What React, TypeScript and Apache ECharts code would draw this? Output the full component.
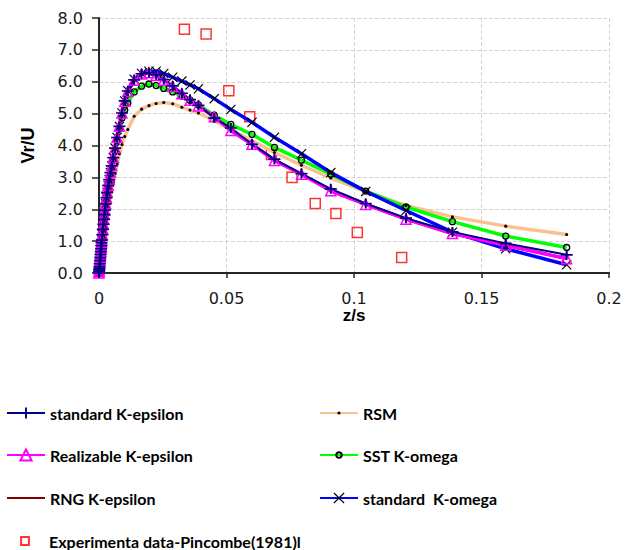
import React, { useEffect, useRef } from 'react';
import * as echarts from 'echarts';

// z/s sample positions (shared by all model curves)
const zs = [
  0, 0.00005, 0.0001, 0.00015, 0.0002, 0.0003, 0.0004, 0.0005, 0.0006, 0.0007,
  0.0008, 0.0009, 0.0010, 0.0011, 0.0013, 0.0015, 0.0017, 0.0019, 0.0021, 0.0023,
  0.0026, 0.0029, 0.0032, 0.0036, 0.0040, 0.0045, 0.0050, 0.0056, 0.0063, 0.0071,
  0.0080, 0.0090, 0.0101, 0.0113, 0.0138, 0.0167, 0.0196, 0.0224, 0.0254, 0.0289,
  0.0325, 0.0357, 0.0390, 0.0452, 0.0517, 0.0600, 0.0688, 0.0794, 0.0909, 0.1046,
  0.1204, 0.1386, 0.1595, 0.1834,
];

const stdKEpsilon = [
  0, 0.05, 0.10, 0.15, 0.20, 0.29, 0.39, 0.48, 0.58, 0.67,
  0.76, 0.86, 0.95, 1.03, 1.20, 1.37, 1.53, 1.68, 1.83, 1.97,
  2.17, 2.36, 2.53, 2.74, 2.93, 3.15, 3.36, 3.62, 3.92, 4.25,
  4.60, 5.02, 5.40, 5.71, 6.06, 6.25, 6.29, 6.22, 6.07, 5.87,
  5.64, 5.44, 5.26, 4.86, 4.55, 4.04, 3.57, 3.12, 2.64, 2.18,
  1.72, 1.29, 0.93, 0.57,
];

const realizableKEpsilon = [
  0, 0.05, 0.10, 0.15, 0.20, 0.30, 0.39, 0.49, 0.58, 0.68,
  0.77, 0.86, 0.96, 1.04, 1.21, 1.38, 1.54, 1.69, 1.84, 1.98,
  2.18, 2.37, 2.54, 2.75, 2.94, 3.16, 3.37, 3.63, 3.93, 4.26,
  4.61, 5.02, 5.39, 5.70, 6.05, 6.24, 6.28, 6.20, 6.05, 5.85,
  5.62, 5.42, 5.24, 4.90, 4.47, 4.04, 3.53, 3.10, 2.58, 2.15,
  1.69, 1.24, 0.87, 0.45,
];

const rngKEpsilon = [
  0, 0.05, 0.10, 0.15, 0.20, 0.30, 0.39, 0.49, 0.58, 0.68,
  0.77, 0.86, 0.96, 1.04, 1.21, 1.38, 1.54, 1.69, 1.84, 1.98,
  2.18, 2.37, 2.54, 2.75, 2.94, 3.16, 3.37, 3.63, 3.93, 4.26,
  4.61, 5.02, 5.39, 5.70, 6.05, 6.24, 6.28, 6.20, 6.05, 5.85,
  5.62, 5.42, 5.24, 4.90, 4.47, 4.04, 3.53, 3.10, 2.58, 2.15,
  1.69, 1.24, 0.87, 0.45,
];

const rsm = [
  0, 0.03, 0.07, 0.10, 0.13, 0.20, 0.27, 0.33, 0.40, 0.46,
  0.52, 0.58, 0.64, 0.70, 0.82, 0.94, 1.05, 1.16, 1.27, 1.38,
  1.53, 1.68, 1.82, 2.00, 2.18, 2.40, 2.60, 2.85, 3.12, 3.42,
  3.74, 4.03, 4.28, 4.50, 4.92, 5.14, 5.25, 5.32, 5.35, 5.31,
  5.20, 5.11, 5.02, 4.78, 4.50, 4.15, 3.78, 3.38, 2.98, 2.55,
  2.12, 1.76, 1.47, 1.21,
];

const sstKOmega = [
  0, 0.05, 0.10, 0.15, 0.19, 0.29, 0.38, 0.47, 0.57, 0.66,
  0.75, 0.84, 0.93, 1.01, 1.18, 1.34, 1.50, 1.65, 1.80, 1.94,
  2.14, 2.32, 2.49, 2.70, 2.89, 3.10, 3.31, 3.56, 3.85, 4.17,
  4.52, 4.86, 5.12, 5.33, 5.68, 5.86, 5.93, 5.88, 5.79, 5.68,
  5.55, 5.42, 5.27, 4.95, 4.66, 4.35, 3.94, 3.54, 3.10, 2.57,
  2.07, 1.61, 1.16, 0.80,
];

const stdKOmega = [
  0, 0.05, 0.10, 0.15, 0.20, 0.29, 0.39, 0.48, 0.58, 0.67,
  0.76, 0.86, 0.95, 1.03, 1.20, 1.37, 1.53, 1.68, 1.83, 1.97,
  2.17, 2.36, 2.53, 2.74, 2.93, 3.15, 3.36, 3.62, 3.92, 4.25,
  4.60, 5.02, 5.40, 5.72, 6.08, 6.26, 6.33, 6.33, 6.26, 6.14,
  6.02, 5.90, 5.78, 5.47, 5.13, 4.73, 4.26, 3.74, 3.15, 2.56,
  1.96, 1.28, 0.76, 0.26,
];

// Experimental data (Pincombe 1981)
const expZ = [0.0335, 0.0420, 0.0509, 0.0591, 0.0676, 0.0757, 0.0848, 0.0929, 0.1013, 0.1187];
const expV = [7.65, 7.50, 5.72, 4.90, 3.72, 3.00, 2.18, 1.87, 1.27, 0.49];

const yTicks = ['0.0', '1.0', '2.0', '3.0', '4.0', '5.0', '6.0', '7.0', '8.0'];

const legendLeftColumn = ['standard K-epsilon', 'Realizable K-epsilon', 'RNG K-epsilon', 'Experimenta data-Pincombe(1981)l'];
const legendRightColumn = ['RSM', 'SST K-omega', 'standard  K-omega'];

const PLUS = 'path://M5,0H7V5H12V7H7V12H5V7H0V5H5Z';
const CROSS = 'path://M0,1L1,0L6,5L11,0L12,1L7,6L12,11L11,12L6,7L1,12L0,11L5,6Z';
const DOT = 'path://M0,0M10,10M3.6,5A1.4,1.4,0,1,1,6.4,5A1.4,1.4,0,1,1,3.6,5Z';
const RING = 'path://M0,0M10,10M2.5,5A2.5,2.5,0,1,1,7.5,5A2.5,2.5,0,1,1,2.5,5Z';
const SQUARE = 'path://M0,0M18,18M4,4H14V14H4Z';

export default function App() {
  const ref = useRef<HTMLDivElement>(null);
  useEffect(() => {
    document.body.style.margin = '0';
    const chart = echarts.init(ref.current as HTMLDivElement, null, { renderer: 'svg' });
    const pts = (ys: number[]) => zs.map((x, i) => [x, ys[i]]);
    const line = (
      name: string,
      ys: number[],
      color: string,
      width: number,
      symbol: string,
      symbolSize: any,
      itemStyle: any,
      showSymbol = true
    ) => ({
      name,
      type: 'line',
      data: pts(ys),
      symbol,
      symbolSize,
      showSymbol,
      showAllSymbol: true,
      lineStyle: { color, width },
      itemStyle,
      emphasis: { disabled: true },
    });

    const legendText = {
      fontFamily: 'Lato',
      fontWeight: 'bold',
      fontSize: 16,
      color: '#000',
    };
    const rowTops = [405, 447, 490, 533];
    const mkLegend = (name: string, left: number, row: number) => ({
      left,
      top: rowTops[row],
      itemWidth: 38,
      itemHeight: 14,
      padding: 0,
      selectedMode: false,
      textStyle: legendText,
      data: [name],
    });
    const legends = [
      ...legendLeftColumn.map((n, i) => mkLegend(n, i === 3 ? 17 : 6, i)),
      ...legendRightColumn.map((n, i) => mkLegend(n, 319, i)),
    ];

    chart.setOption({
      animation: false,
      backgroundColor: '#fff',
      grid: { left: 99, right: 16, top: 18, bottom: 277 },
      xAxis: {
        type: 'value',
        min: 0,
        max: 0.2,
        interval: 0.05,
        name: 'z/s',
        nameLocation: 'middle',
        nameGap: 34,
        nameMoveOverlap: false,
        nameTextStyle: { fontFamily: 'Liberation Sans', fontWeight: 'bold', fontSize: 17, color: '#000' },
        axisLine: { lineStyle: { color: '#262626', width: 2 } },
        axisTick: { show: true, length: 5, lineStyle: { color: '#262626', width: 1.5 } },
        axisLabel: { fontFamily: 'DejaVu Sans', fontSize: 16, color: '#1a1a1a', margin: 17 },
        splitLine: { show: true, lineStyle: { type: 'dashed', color: '#d4d4d4', width: 1 } },
      },
      yAxis: {
        type: 'value',
        min: 0,
        max: 8,
        interval: 1,
        name: 'Vr/U',
        nameLocation: 'middle',
        nameGap: 62,
        nameMoveOverlap: false,
        nameTextStyle: { fontFamily: 'Liberation Sans', fontWeight: 'bold', fontSize: 18, color: '#000' },
        axisLine: { show: true, lineStyle: { color: '#262626', width: 2 } },
        axisTick: { show: true, length: 7, lineStyle: { color: '#262626', width: 1.5 } },
        axisLabel: {
          fontFamily: 'DejaVu Sans',
          fontSize: 16,
          color: '#1a1a1a',
          margin: 16,
          formatter: (v: number) => yTicks[Math.round(v)] ?? String(v),
        },
        splitLine: { show: true, lineStyle: { type: 'dashed', color: '#d4d4d4', width: 1 } },
      },
      legend: legends,
      series: [
        line('RNG K-epsilon', rngKEpsilon, '#800000', 3, 'circle', 0, { color: 'rgba(0,0,0,0)' }, false),
        line('RSM', rsm, '#FAC090', 3.5, DOT, 11, { color: '#000' }),
        line('SST K-omega', sstKOmega, '#00FF00', 3.5, RING, 12, {
          color: 'rgba(0,0,0,0)',
          borderColor: '#000',
          borderWidth: 1.3,
        }),
        line('standard  K-omega', stdKOmega, '#0000FF', 3.5, CROSS, 10, { color: '#000' }),
        line('Realizable K-epsilon', realizableKEpsilon, '#FF00FF', 3.5, 'triangle', 10, {
          color: 'rgba(0,0,0,0)',
          borderColor: '#FF00FF',
          borderWidth: 1.5,
        }),
        line('standard K-epsilon', stdKEpsilon, '#000080', 2, PLUS, [12, 10], { color: '#000080' }),
        {
          name: 'Experimenta data-Pincombe(1981)l',
          type: 'scatter',
          data: expZ.map((x, i) => [x, expV[i]]),
          symbol: SQUARE,
          symbolSize: 18,
          itemStyle: { color: 'rgba(0,0,0,0)', borderColor: '#FF0000', borderWidth: 1.5 },
          emphasis: { disabled: true },
        },
      ],
    });
    return () => chart.dispose();
  }, []);
  return <div ref={ref} style={{ width: 625, height: 550 }} />;
}
